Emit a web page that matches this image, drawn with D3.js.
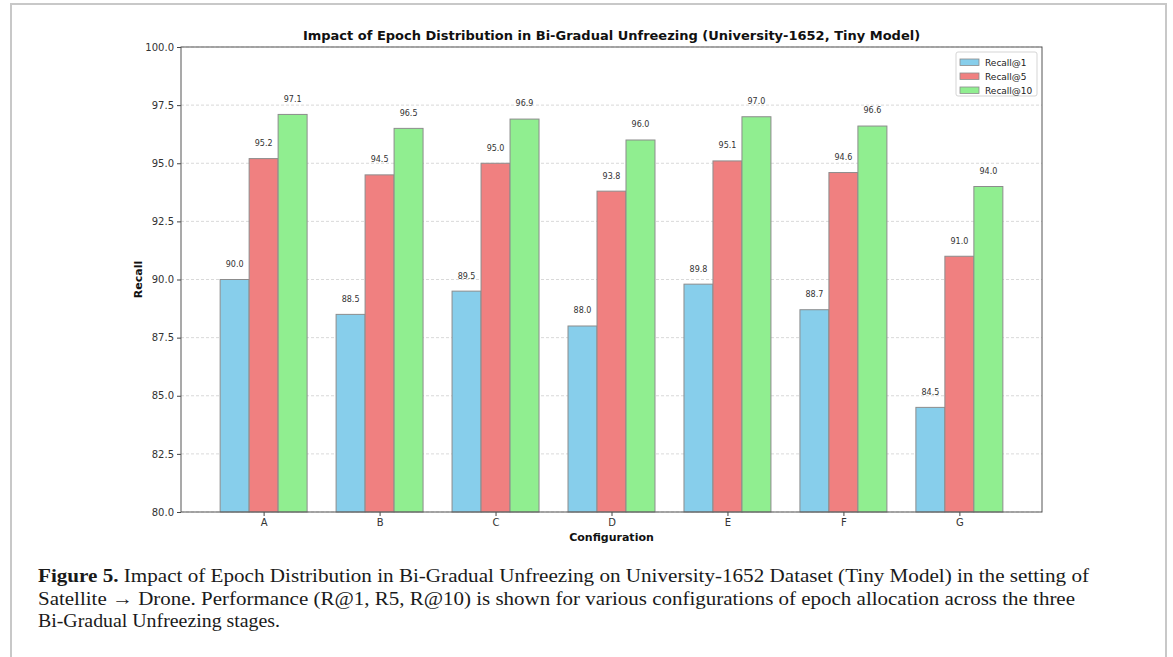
<!DOCTYPE html>
<html>
<head>
<meta charset="utf-8">
<script src="https://cdn.jsdelivr.net/npm/d3@7"></script>
<style>
  body { margin: 0; background: #fff; }
  svg { display: block; }
</style>
</head>
<body>
<svg id="chart" width="1173" height="657"></svg>
<script>
// Data
const configs = ["A", "B", "C", "D", "E", "F", "G"];
const recall1 = [90.0, 88.5, 89.5, 88.0, 89.8, 88.7, 84.5];
const recall5 = [95.2, 94.5, 95.0, 93.8, 95.1, 94.6, 91.0];
const recall10 = [97.1, 96.5, 96.9, 96.0, 97.0, 96.6, 94.0];
const seriesNames = ["Recall@1", "Recall@5", "Recall@10"];
const yTicks = [80.0, 82.5, 85.0, 87.5, 90.0, 92.5, 95.0, 97.5, 100.0];

const colors = ["#87ceeb", "#f08080", "#90ee90"];
const series = [recall1, recall5, recall10];

const svg = d3.select("#chart");

// Figure frame (open at the bottom)
svg.append("path")
    .attr("d", "M11,657 L11,4 L1166,4 L1166,657")
    .attr("fill", "none")
    .attr("stroke", "#c8c8c8")
    .attr("stroke-width", 2);

// Plot area
const plotLeft = 181, plotRight = 1042, plotTop = 47, plotBottom = 512;

// x as a continuous index scale, like matplotlib bar positions
const barW = 0.25;
const x = d3.scaleLinear().domain([-0.7125, 6.7125]).range([plotLeft, plotRight]);
const y = d3.scaleLinear().domain([80, 100]).range([plotBottom, plotTop]);

// Grid
svg.append("g")
    .selectAll("line")
    .data(yTicks)
    .join("line")
    .attr("x1", plotLeft).attr("x2", plotRight)
    .attr("y1", d => y(d)).attr("y2", d => y(d))
    .attr("stroke", "#cfcfcf")
    .attr("stroke-width", 0.8)
    .attr("stroke-dasharray", "3,2");

// Bars
series.forEach((vals, s) => {
    const off = (s - 1) * barW;
    svg.append("g")
        .selectAll("rect")
        .data(vals)
        .join("rect")
        .attr("x", (d, i) => x(i + off - barW / 2))
        .attr("width", x(barW) - x(0))
        .attr("y", d => y(d))
        .attr("height", d => plotBottom - y(d))
        .attr("fill", colors[s])
        .attr("stroke", "#8c8c8c")
        .attr("stroke-width", 1);

    svg.append("g")
        .selectAll("text")
        .data(vals)
        .join("text")
        .attr("x", (d, i) => x(i + off))
        .attr("y", d => y(d + 0.5) - 1)
        .attr("text-anchor", "middle")
        .style("font-family", "DejaVu Sans")
        .style("font-size", "8px")
        .style("fill", "#333")
        .text(d => d.toFixed(1));
});

// Axes
const yAxis = d3.axisLeft(y).tickValues(yTicks).tickFormat(d3.format(".1f")).tickSize(4).tickPadding(3);
const gy = svg.append("g").attr("transform", `translate(${plotLeft},0)`).call(yAxis);
gy.select(".domain").remove();

const xAxis = d3.axisBottom(x).tickValues(d3.range(configs.length)).tickFormat(i => configs[i]).tickSize(4).tickPadding(3);
const gx = svg.append("g").attr("transform", `translate(0,${plotBottom})`).call(xAxis);
gx.select(".domain").remove();

[gx, gy].forEach(g => {
    g.selectAll("text").style("font-family", "DejaVu Sans").style("font-size", "10px").style("fill", "#333");
    g.selectAll("line").attr("stroke", "#444");
});

// Spines
svg.append("rect")
    .attr("x", plotLeft).attr("y", plotTop)
    .attr("width", plotRight - plotLeft).attr("height", plotBottom - plotTop)
    .attr("fill", "none")
    .attr("stroke", "#555")
    .attr("stroke-width", 1);

// Title and axis labels
svg.append("text")
    .attr("x", (plotLeft + plotRight) / 2).attr("y", 40)
    .attr("text-anchor", "middle")
    .style("font-family", "DejaVu Sans")
    .style("font-weight", "bold")
    .style("font-size", "13px")
    .style("fill", "#111")
    .text("Impact of Epoch Distribution in Bi-Gradual Unfreezing (University-1652, Tiny Model)");

svg.append("text")
    .attr("transform", `translate(142,${(plotTop + plotBottom) / 2}) rotate(-90)`)
    .attr("text-anchor", "middle")
    .style("font-family", "DejaVu Sans")
    .style("font-weight", "bold")
    .style("font-size", "11px")
    .style("fill", "#111")
    .text("Recall");

svg.append("text")
    .attr("x", (plotLeft + plotRight) / 2).attr("y", 541)
    .attr("text-anchor", "middle")
    .style("font-family", "DejaVu Sans")
    .style("font-weight", "bold")
    .style("font-size", "11px")
    .style("fill", "#111")
    .text("Configuration");

// Legend
const legend = svg.append("g").attr("transform", "translate(956,52)");
legend.append("rect")
    .attr("width", 81).attr("height", 44).attr("rx", 2)
    .attr("fill", "#fff").attr("stroke", "#d5d5d5");
seriesNames.forEach((name, s) => {
    const row = legend.append("g").attr("transform", `translate(0,${7 + s * 14})`);
    row.append("rect")
        .attr("x", 4).attr("y", 0).attr("width", 19).attr("height", 6.5)
        .attr("fill", colors[s]).attr("stroke", "#8c8c8c").attr("stroke-width", 0.8);
    row.append("text")
        .attr("x", 29).attr("y", 7)
        .style("font-family", "DejaVu Sans")
        .style("font-size", "9px")
        .style("fill", "#222")
        .text(name);
});

// Caption, one text element per line stretched to the reference widths
const lines = [
    { parts: [["Figure 5.", true], [" Impact of Epoch Distribution in Bi-Gradual Unfreezing on University-1652 Dataset (Tiny Model) in the setting of", false]], w: 1051 },
    { parts: [["Satellite \u2192 Drone. Performance (R@1, R5, R@10) is shown for various configurations of epoch allocation across the three", false]], w: 1037 },
    { parts: [["Bi-Gradual Unfreezing stages.", false]], w: 242 }
];
lines.forEach((line, li) => {
    const t = svg.append("text")
        .attr("x", 38).attr("y", 582 + li * 22.5)
        .attr("textLength", line.w)
        .attr("lengthAdjust", "spacingAndGlyphs")
        .style("font-family", "Liberation Serif")
        .style("font-size", "19px")
        .style("fill", "#1a1a1a");
    line.parts.forEach(([txt, bold]) => {
        t.append("tspan").text(txt).style("font-weight", bold ? "bold" : "normal");
    });
});
</script>
</body>
</html>
